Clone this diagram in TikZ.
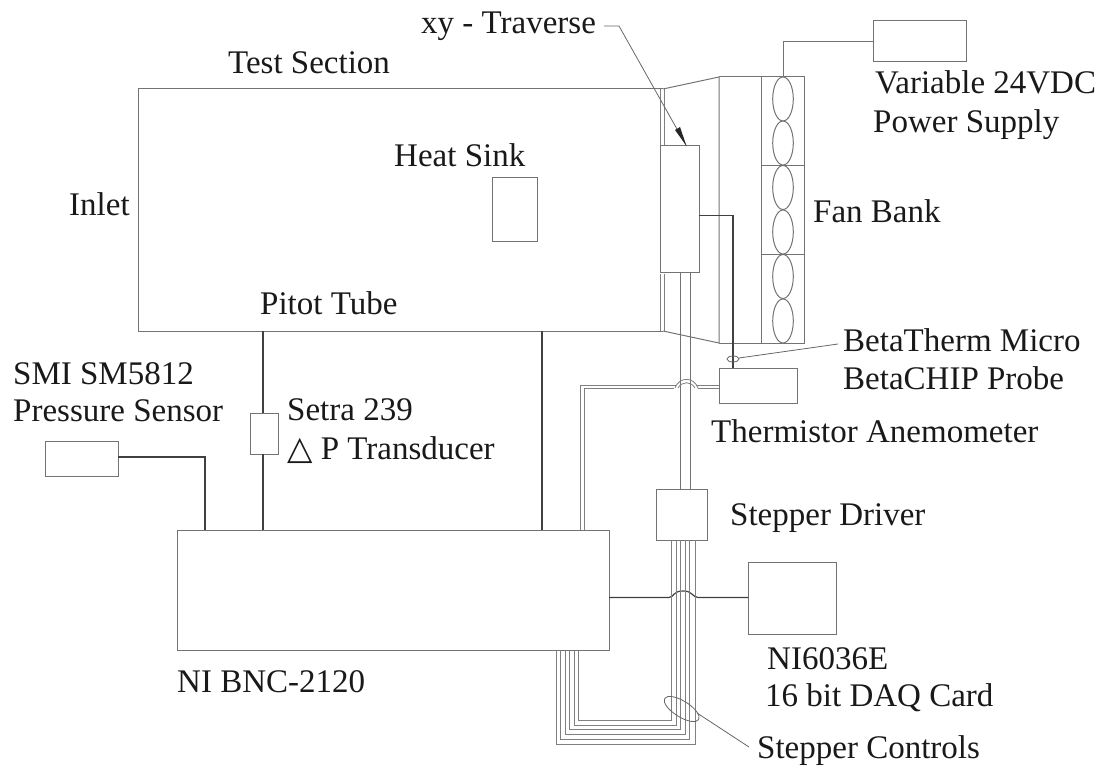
\documentclass[tikz,border=0pt]{standalone}
\usepackage{fontspec}
\setmainfont{Liberation Serif}
\newfontfamily\symfont{DejaVu Sans}
\begin{document}
\begin{tikzpicture}[x=1pt,y=-1pt,
  ln/.style={draw=black!55,line width=1pt},
  fine/.style={draw=black!50,line width=0.8pt},
  dk/.style={draw=black!75,line width=1.2pt},
  lead/.style={draw=black!60,line width=0.8pt},
  lbl/.style={font=\fontsize{33}{38}\selectfont,text=black!90,inner sep=0pt,anchor=base west},
  boxn/.style={ln,inner sep=0pt,outer sep=0pt,anchor=north west}]
\useasboundingbox (0,0) rectangle (1103,767);
% test section
\coordinate (tsTL) at (138,89);
\coordinate (tsBL) at (138,331);
\coordinate (tsTR) at (663,89);
\coordinate (tsBR) at (663,331);
\coordinate (cTop) at (719,77);
\coordinate (cBot) at (719,343);
\draw[ln] (tsTR)--(tsTL)--(tsBL)--(tsBR);
\draw[ln] (tsTR)--(cTop)--(cBot)--(tsBR);
\draw[ln] (cTop)--(804,77)--(804,343)--(cBot);
\draw[ln] (761.5,77)--(761.5,343);
\draw[ln] (761.5,165.5)--(804,165.5) (761.5,255)--(804,255);
\foreach \c in {99,143,187.5,232,276.5,321}{\draw[ln] (783,\c) ellipse (10.3 and 22);}
\draw[fine] (664,89)--(664,146) (664,274)--(664,331);
\draw[fine] (660,89)--(660,146) (660,274)--(660,331);
\node[boxn,minimum width=39pt,minimum height=127pt] (trav) at (660,146) {};
\node[boxn,minimum width=45pt,minimum height=64pt] (hs) at (492,178) {};
\node[boxn,minimum width=93pt,minimum height=41pt] (ps) at (873,21) {};
\draw[ln] (ps.west) -| (783,77);
% traverse leader
\coordinate (trStart) at (604,26);
\coordinate (trBend) at (619,26);
\coordinate (trTip) at (686.5,146);
\draw[lead] (trStart)--(trBend)--(trTip);
\fill[black!85] (trTip)--(675,130)--(680,127)--cycle;
% stepper driver and its feed
\node[boxn,minimum width=51pt,minimum height=50.5pt] (sd) at (656.7,489.5) {};
\draw[ln] (680,273)--(680,489.5) (690,273)--(690,489.5);
% thermistor
\node[boxn,minimum width=78pt,minimum height=35pt] (ta) at (719,368) {};
\draw[dk] (699,215.5)--(733,215.5)--(733,368);
\draw[lead] (733,359) ellipse (6 and 3);
\draw[lead] (739,358)--(838,344);
% double wire
\draw[fine] (719,385)--(696,385) (676,385)--(580,385)--(580,530);
\draw[fine] (719,388.5)--(698,388.5) (674,388.5)--(584.5,388.5)--(584.5,530);
\draw[fine] (675,388) .. controls (679,376.5) and (694,376.5) .. (698,388);
\draw[fine] (678,388) .. controls (682,381) and (691,381) .. (695,388);
% NI BNC
\node[boxn,minimum width=432pt,minimum height=120.5pt] (ni) at (177,530) {};
\draw[dk] (542,331)--(542,530);
\node[boxn,minimum width=28pt,minimum height=41pt,fill=white] (setra) at (250,413) {};
\draw[dk] (263,331)--(263,413) (263,454)--(263,530);
\node[boxn,minimum width=73pt,minimum height=35pt] (smi) at (45,441) {};
\draw[dk] (118,457)--(205,457)--(205,530);
% daq
\node[boxn,minimum width=88pt,minimum height=71.5pt] (daq) at (748.3,562.5) {};
\draw[dk] (609,597.5)--(669,597.5) .. controls (674,597) and (673,591) .. (683,591) .. controls (693,591) and (692,597) .. (698,597.5)--(748.3,597.5);
% stepper bundle
\draw[fine] (671,540)--(671,720.7)--(578,720.7)--(578,650.5);
\draw[fine] (676.7,540)--(676.7,725)--(574,725)--(574,650.5);
\draw[fine] (680.7,540)--(680.7,729.3)--(569.3,729.3)--(569.3,650.5);
\draw[fine] (685,540)--(685,734)--(565,734)--(565,650.5);
\draw[fine] (689.3,540)--(689.3,739.3)--(560.7,739.3)--(560.7,650.5);
\draw[fine] (695,540)--(695,744.3)--(556,744.3)--(556,650.5);
\draw[lead,rotate around={-32:(681.7,709)}] (681.7,709) ellipse (20 and 8);
\coordinate (scStart) at (697,713);
\coordinate (scEnd) at (749,747);
\draw[lead] (scStart)--(scEnd);
% labels
\node[lbl] (l1) at (421,34) {xy - Traverse};
\node[lbl] (l2) at (228,74) {Test Section};
\node[lbl] (l3) at (394,166.5) {Heat Sink};
\node[lbl] (l4) at (69,216) {Inlet};
\node[lbl] (l5) at (260,315) {Pitot Tube};
\node[lbl] (l6) at (875,94) {Variable 24VDC};
\node[lbl] (l7) at (873,132.5) {Power Supply};
\node[lbl] (l8) at (813,223) {Fan Bank};
\node[lbl] (l9) at (843,351) {BetaTherm Micro};
\node[lbl] (l10) at (843,389) {BetaCHIP Probe};
\node[lbl] (l11) at (711,442.5) {Thermistor Anemometer};
\node[lbl] (l12) at (13,384) {SMI SM5812};
\node[lbl] (l13) at (13,421) {Pressure Sensor};
\node[lbl] (l14) at (287,420) {Setra 239};
\node[lbl] (l15) at (287,459) {{\symfont △} P Transducer};
\node[lbl] (l16) at (730,525) {Stepper Driver};
\node[lbl] (l17) at (767,669) {NI6036E};
\node[lbl] (l18) at (765,706.5) {16 bit DAQ Card};
\node[lbl] (l19) at (757,758) {Stepper Controls};
\node[lbl] (l20) at (177,692) {NI BNC-2120};
\end{tikzpicture}
\end{document}
